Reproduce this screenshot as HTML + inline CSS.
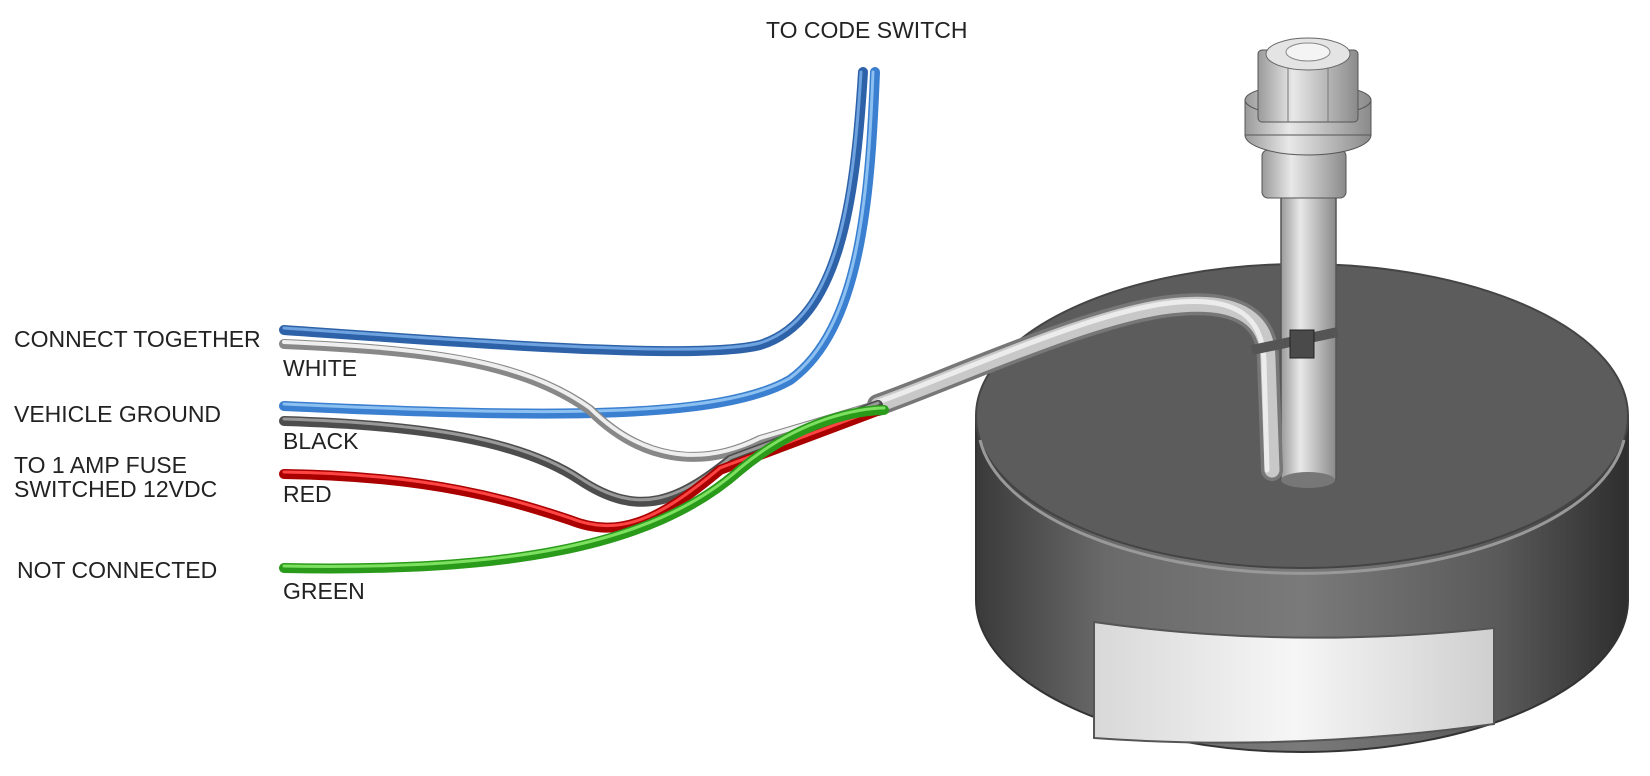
<!DOCTYPE html>
<html><head><meta charset="utf-8"><style>
html,body{margin:0;padding:0;background:#fff;width:1650px;height:776px;overflow:hidden}
svg{display:block}
text{font-family:"Liberation Sans",sans-serif;font-size:23px;fill:#222}
</style></head><body>
<svg width="1650" height="776" viewBox="0 0 1650 776" xmlns="http://www.w3.org/2000/svg">
<defs>
<linearGradient id="side" x1="0" x2="1" y1="0" y2="0">
<stop offset="0" stop-color="#3a3a3a"/><stop offset="0.2" stop-color="#6a6a6a"/><stop offset="0.5" stop-color="#7a7a7a"/><stop offset="0.8" stop-color="#5a5a5a"/><stop offset="1" stop-color="#2e2e2e"/>
</linearGradient>
<linearGradient id="lbl" x1="0" x2="1"><stop offset="0" stop-color="#d8d8d8"/><stop offset="0.5" stop-color="#f6f6f6"/><stop offset="1" stop-color="#cfcfcf"/></linearGradient>
<linearGradient id="post" x1="0" x2="1"><stop offset="0" stop-color="#9a9a9a"/><stop offset="0.35" stop-color="#e8e8e8"/><stop offset="1" stop-color="#8a8a8a"/></linearGradient>
</defs>

<!-- disc -->
<path d="M976,416 L976,600 A326,152 0 0 0 1628,600 L1628,416 Z" fill="url(#side)" stroke="#333" stroke-width="2"/>
<ellipse cx="1302" cy="416" rx="326" ry="152" fill="#5c5c5c" stroke="#444" stroke-width="2"/>
<path d="M980,440 A324,150 0 0 0 1624,440" fill="none" stroke="#999" stroke-width="3"/>
<path d="M1094,622 Q1290,650 1494,628 L1494,724 Q1290,752 1094,738 Z" fill="url(#lbl)" stroke="#555" stroke-width="2"/>

<!-- post -->
<rect x="1281" y="170" width="55" height="310" fill="url(#post)" stroke="#555" stroke-width="1.5"/>
<ellipse cx="1308" cy="480" rx="27" ry="8" fill="#777"/>
<rect x="1262" y="150" width="84" height="48" rx="6" fill="url(#post)" stroke="#555"/>
<ellipse cx="1308" cy="135" rx="63" ry="20" fill="url(#post)" stroke="#555"/>
<rect x="1245" y="100" width="126" height="35" fill="url(#post)" stroke="#555"/>
<ellipse cx="1308" cy="100" rx="63" ry="16" fill="url(#post)" stroke="#555"/>
<rect x="1258" y="50" width="100" height="72" rx="4" fill="url(#post)" stroke="#555"/>
<line x1="1288" y1="60" x2="1288" y2="122" stroke="#777"/>
<line x1="1328" y1="60" x2="1328" y2="122" stroke="#777"/>
<ellipse cx="1308" cy="54" rx="42" ry="16" fill="#e4e4e4" stroke="#666"/>
<ellipse cx="1308" cy="52" rx="22" ry="9" fill="#f4f4f4" stroke="#888"/>

<!-- cable -->
<path d="M878,405 C950,380 1100,310 1180,305 C1240,300 1268,320 1268,360 L1272,470" fill="none" stroke="#777" stroke-width="22" stroke-linecap="round"/>
<path d="M878,405 C950,380 1100,310 1180,305 C1240,300 1268,320 1268,360 L1272,470" fill="none" stroke="#c8c8c8" stroke-width="15" stroke-linecap="round"/>
<path d="M878,402 C950,377 1100,307 1180,302 C1236,298 1262,316 1264,360 L1267,470" fill="none" stroke="#ececec" stroke-width="5" stroke-linecap="round"/>
<!-- tie -->
<path d="M1252,350 Q1300,340 1338,332" fill="none" stroke="#555" stroke-width="10"/>
<rect x="1290" y="330" width="24" height="28" fill="#4a4a4a" stroke="#222"/>

<!-- wires -->
<g fill="none" stroke-linecap="round">
<path d="M284,330 C500,345 700,360 760,345 C840,320 855,200 863,72" stroke="#2e62a8" stroke-width="10"/>
<path d="M284,328 C500,343 700,358 760,343 C838,318 853,200 861,72" stroke="#6ea3e0" stroke-width="3"/>
<path d="M284,406 C550,418 720,420 790,380 C860,330 870,200 875,72" stroke="#3a7fd0" stroke-width="10"/>
<path d="M284,404 C550,416 720,418 790,378 C858,328 868,200 873,72" stroke="#8cc0f0" stroke-width="3"/>
<path d="M284,344 C420,350 520,360 590,410 C640,460 700,470 760,440 L878,405" stroke="#888" stroke-width="10"/>
<path d="M284,342 C420,348 520,358 590,408 C640,458 700,468 760,438 L878,403" stroke="#eee" stroke-width="4"/>
<path d="M284,421 C420,425 520,440 580,480 C640,520 680,500 730,460 L878,405" stroke="#4d4d4d" stroke-width="10"/>
<path d="M284,419 C420,423 520,438 580,478 C640,518 680,498 730,458 L878,403" stroke="#999" stroke-width="3"/>
<path d="M284,474 C430,476 510,500 570,520 C620,540 660,520 720,470 L880,410" stroke="#a00" stroke-width="10"/>
<path d="M284,472 C430,474 510,498 570,518 C620,538 660,518 720,468 L880,408" stroke="#f44" stroke-width="3"/>
<path d="M284,568 C500,572 650,550 740,470 C800,420 860,410 884,410" stroke="#2a9a1a" stroke-width="10"/>
<path d="M284,566 C500,570 650,548 740,468 C800,418 860,408 884,408" stroke="#7de060" stroke-width="3"/>
</g>

<!-- labels -->
<text x="766" y="38">TO CODE SWITCH</text>
<text x="14" y="347">CONNECT TOGETHER</text>
<text x="14" y="422">VEHICLE GROUND</text>
<text x="14" y="473">TO 1 AMP FUSE</text>
<text x="14" y="497">SWITCHED 12VDC</text>
<text x="17" y="578">NOT CONNECTED</text>
<text x="283" y="376">WHITE</text>
<text x="283" y="449">BLACK</text>
<text x="283" y="502">RED</text>
<text x="283" y="599">GREEN</text>
</svg>
</body></html>
